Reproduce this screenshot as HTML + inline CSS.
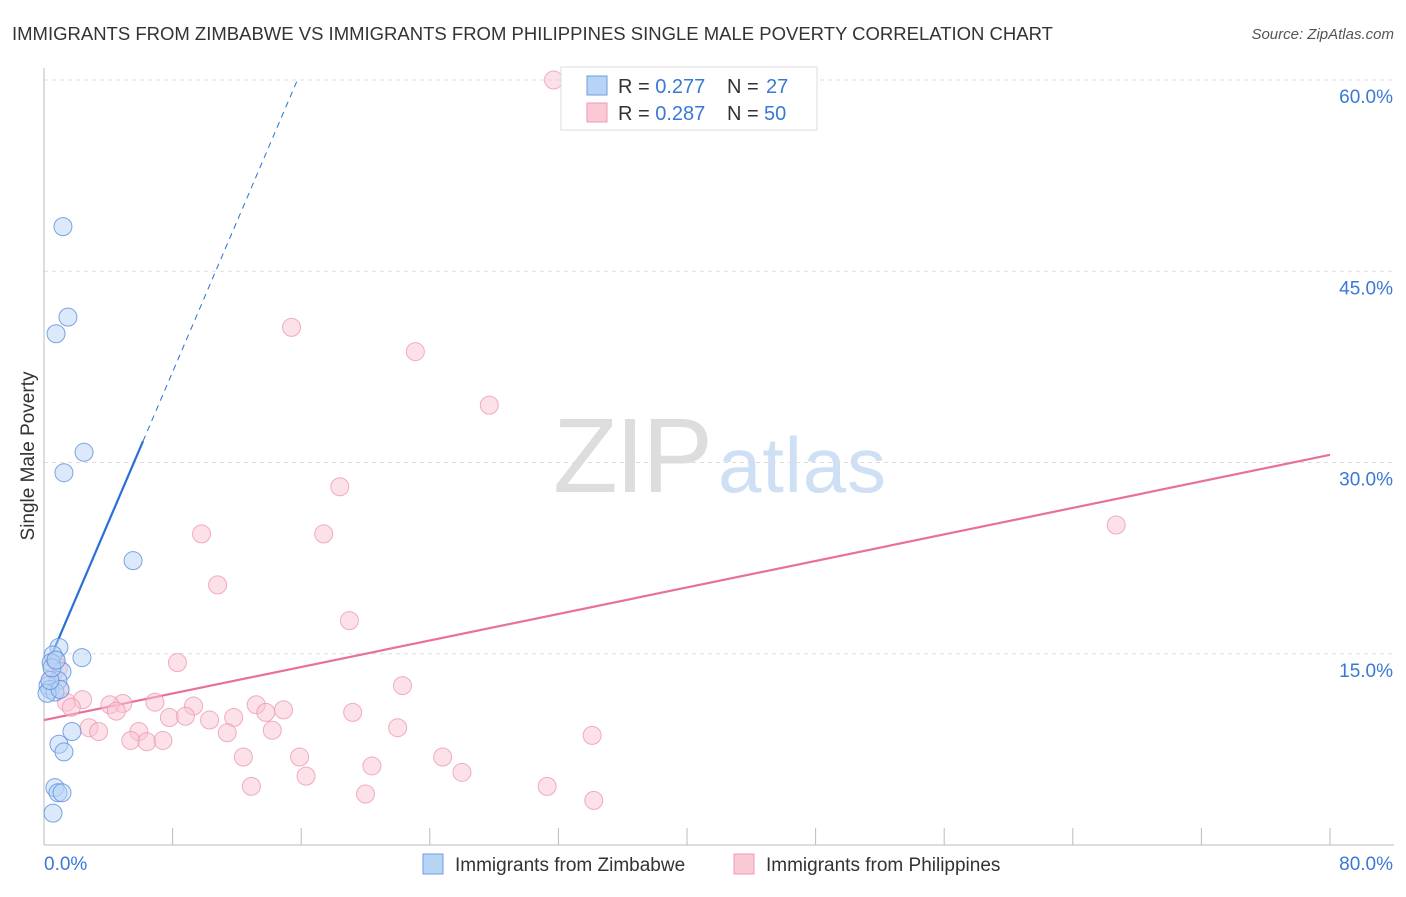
<!DOCTYPE html>
<html><head><meta charset="utf-8"><style>
body{margin:0;background:#fff;font-family:"Liberation Sans",sans-serif}
svg text{font-family:"Liberation Sans",sans-serif}
</style></head><body>
<svg id="chart" width="1406" height="892" viewBox="0 0 1406 892">
<text x="12" y="40" font-size="18.5" fill="#333">IMMIGRANTS FROM ZIMBABWE VS IMMIGRANTS FROM PHILIPPINES SINGLE MALE POVERTY CORRELATION CHART</text>
<text x="1394" y="39" font-size="15" fill="#555" font-style="italic" text-anchor="end">Source: ZipAtlas.com</text>
<text x="553" y="492" font-size="106" font-family="Liberation Serif" fill="#ddd" textLength="160">ZIP</text>
<text x="718" y="492" font-size="78" fill="#cfe0f5" textLength="168">atlas</text>
<text transform="translate(34,456) rotate(-90)" font-size="19" fill="#333" text-anchor="middle">Single Male Poverty</text>
<g id="grid"></g><g id="axes"></g><g id="trend"></g><g id="pts"></g>
<g>
<rect x="561" y="67" width="256" height="63" fill="#fff" stroke="#ddd"/>
<rect x="587" y="76" width="20" height="19" fill="#b8d4f5" stroke="#6a9ee0"/>
<rect x="587" y="103" width="20" height="19" fill="#fbc9d6" stroke="#ec9ab2"/>
<text x="618" y="93" font-size="20" fill="#333">R = <tspan fill="#3a78d6">0.277</tspan></text>
<text x="727" y="93" font-size="20" fill="#333">N = </text>
<text x="766" y="93" font-size="20" fill="#3a78d6">27</text>
<text x="618" y="120" font-size="20" fill="#333">R = <tspan fill="#3a78d6">0.287</tspan></text>
<text x="727" y="120" font-size="20" fill="#333">N = </text>
<text x="764" y="120" font-size="20" fill="#3a78d6">50</text>
</g>
<g>
<rect x="423" y="854" width="20" height="20" fill="#b8d4f5" stroke="#6a9ee0"/>
<text x="455" y="871" font-size="19" fill="#333">Immigrants from Zimbabwe</text>
<rect x="734" y="854" width="20" height="20" fill="#fbc9d6" stroke="#ec9ab2"/>
<text x="766" y="871" font-size="19" fill="#333">Immigrants from Philippines</text>
</g>
</svg>
<script>
const xTicks=[0,8,16,24,32,40,48,56,64,72,80];
const yTicks=[15,30,45,60];
const yTickLabels=["15.0%","30.0%","45.0%","60.0%"];
const xEndLabels=["0.0%","80.0%"];
const zimX=[1.18,1.49,0.75,2.49,1.24,5.54,0.93,0.56,2.36,0.44,1.12,0.87,0.25,0.37,0.68,0.19,1.0,1.74,0.93,1.24,0.68,0.87,1.12,0.56,0.37,0.5,0.75];
const zimY=[48.5,41.4,40.1,30.8,29.2,22.3,15.5,14.9,14.7,14.3,13.6,12.9,12.5,12.2,12.0,11.9,12.2,8.9,7.9,7.3,4.5,4.1,4.1,2.5,12.9,13.9,14.5];
const phiX=[31.7,15.4,23.1,27.7,18.4,17.4,9.8,66.7,10.8,19.0,8.3,22.3,0.7,0.9,0.5,1.0,1.4,2.4,1.7,6.9,4.9,4.1,4.5,9.3,13.2,14.9,7.8,8.8,10.3,11.8,13.8,19.2,2.8,3.4,5.9,5.4,6.4,7.4,11.4,14.2,22.0,34.1,12.4,15.9,24.8,20.4,16.3,26.0,12.9,31.3,20.0,34.2];
const phiY=[60.0,40.6,38.7,34.5,28.1,24.4,24.4,25.1,20.4,17.6,14.3,12.5,14.5,13.9,13.1,12.2,11.2,11.4,10.8,11.2,11.1,11.0,10.5,10.9,11.0,10.6,10.0,10.1,9.8,10.0,10.4,10.4,9.2,8.9,8.9,8.2,8.1,8.2,8.8,9.0,9.2,8.6,6.9,6.9,6.9,6.2,5.4,5.7,4.6,4.6,4.0,3.5];
const zimTrend=[13.5,2.95];
const phiTrend=[9.8,0.26];
const X=v=>44+v/80*1286, Y=v=>845-v/60*765;
const NS="http://www.w3.org/2000/svg";
function mk(t,a,p){const e=document.createElementNS(NS,t);for(const k in a)e.setAttribute(k,a[k]);p.appendChild(e);return e;}
const grid=document.getElementById('grid'),axes=document.getElementById('axes'),tr=document.getElementById('trend'),pts=document.getElementById('pts');
yTicks.forEach((v,i)=>{
 const l=mk('line',{x1:44,x2:1394,y1:Y(v),y2:Y(v),stroke:'#ddd','stroke-dasharray':'4,4'},grid);
 
 
 const t=mk('text',{x:1393,y:Y(v)+23,'font-size':19,fill:'#3a78d6','text-anchor':'end'},axes);t.textContent=yTickLabels[i];
 
 
});
mk('line',{x1:44,x2:44,y1:68,y2:845,stroke:'#bbb'},axes);
const xa=mk('line',{x1:44,x2:1394,y1:845,y2:845,stroke:'#bbb'},axes);


xTicks.forEach(v=>{const t=mk('line',{x1:X(v),x2:X(v),y1:828,y2:845,stroke:'#bbb'},axes);
 
 });
[[0,'start'],[80,'end']].forEach((p,i)=>{const t=mk('text',{x:i?1393:44,y:870,'font-size':19,fill:'#3a78d6','text-anchor':p[1]},axes);t.textContent=xEndLabels[i];
 
 });
function draw(xs,ys,fill,stroke,name){xs.forEach((x,i)=>{const c=mk('circle',{cx:X(x),cy:Y(ys[i]),r:9,fill:fill,'fill-opacity':0.5,stroke:stroke,'stroke-opacity':0.8,'stroke-width':1},pts);
 
 });}
draw(phiX,phiY,'#f9c3d2','#ec9ab2','point-philippines');
draw(zimX,zimY,'#b8d4f5','#5b8fdc','point-zimbabwe');
const zEnd=6.16, zTop=(60-zimTrend[0])/zimTrend[1];
const zs=mk('line',{x1:X(0.19),y1:Y(zimTrend[0]+zimTrend[1]*0.19),x2:X(zEnd),y2:Y(zimTrend[0]+zimTrend[1]*zEnd),stroke:'#2a6fd6','stroke-width':2.2},tr);


const zd=mk('line',{x1:X(zEnd),y1:Y(zimTrend[0]+zimTrend[1]*zEnd),x2:X(zTop),y2:Y(60),stroke:'#2a6fd6','stroke-width':1,'stroke-dasharray':'6,5'},tr);


const pl=mk('line',{x1:X(0),y1:Y(phiTrend[0]),x2:X(80),y2:Y(phiTrend[0]+phiTrend[1]*80),stroke:'#e8709a','stroke-width':2.2},tr);


</script>
</body></html>
